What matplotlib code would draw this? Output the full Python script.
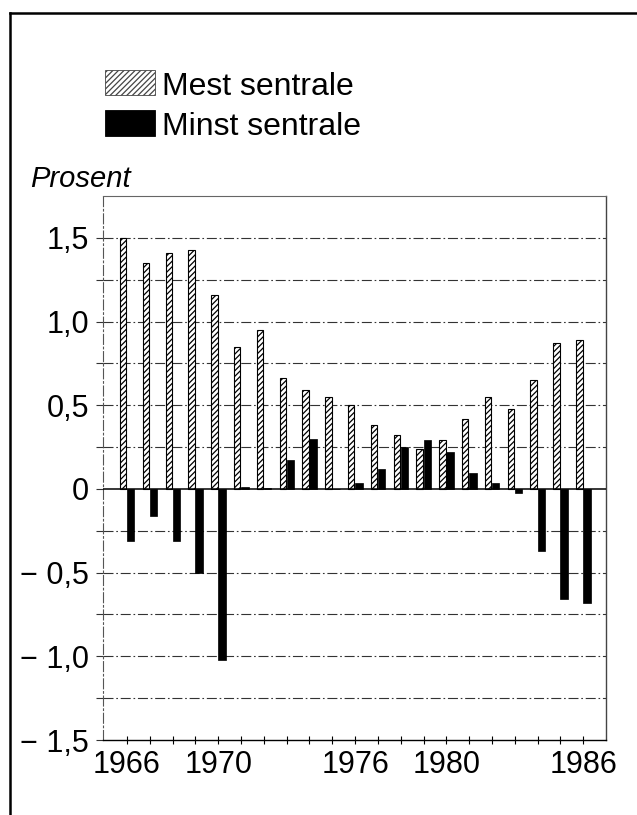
import matplotlib
matplotlib.use("Agg")
import matplotlib.pyplot as plt
from matplotlib.patches import Rectangle
from matplotlib.lines import Line2D

# data (prosent)
years = list(range(1966, 1987))
mest_sentrale = [1.50, 1.35, 1.41, 1.43, 1.16, 0.85, 0.95, 0.66, 0.59, 0.55, 0.50,
                 0.38, 0.32, 0.24, 0.29, 0.42, 0.55, 0.48, 0.65, 0.87, 0.89]
minst_sentrale = [-0.31, -0.16, -0.31, -0.50, -1.02, 0.014, 0.005, 0.17, 0.30, 0.0, 0.034,
                  0.12, 0.25, 0.29, 0.22, 0.094, 0.034, -0.026, -0.37, -0.66, -0.68]

series_labels = ["Mest sentrale", "Minst sentrale"]
y_label = "Prosent"
y_ticks = [-1.5, -1.0, -0.5, 0, 0.5, 1.0, 1.5]
y_ticklabels = ["\u2212 1,5", "\u2212 1,0", "\u2212 0,5", "0", "0,5", "1,0", "1,5"]
x_labelled = [1966, 1970, 1976, 1980, 1986]

plt.rcParams['font.family'] = ['Liberation Sans', 'DejaVu Sans']
plt.rcParams['hatch.linewidth'] = 0.9

W, H = 637, 815
fig = plt.figure(figsize=(W / 100, H / 100), dpi=100)
ax = fig.add_axes([103 / W, 1 - 740 / H, 503 / W, 544 / H])

dash = (0, (9, 2.5, 1.5, 2.5))

# bars: hatched just left of the year, black starting at the year
ax.bar([y - 0.31 for y in years], mest_sentrale, width=0.28, align='edge',
       facecolor='white', edgecolor='black', hatch='//////', linewidth=0.8, zorder=3)
ax.bar(years, minst_sentrale, width=0.33, align='edge',
       color='black', edgecolor='black', linewidth=0.5, zorder=3)

ax.set_xlim(1964.95, 1987)
ax.set_ylim(-1.5, 1.75)

# gridlines every 0.25, solid zero line
for g in [v * 0.25 for v in range(-5, 7)]:
    if g == 0:
        ax.axhline(0, color='black', lw=1.1, zorder=4)
    else:
        ax.axhline(g, color='#333333', lw=0.8, linestyle=dash, zorder=1)

ax.set_yticks(y_ticks)
ax.set_yticklabels(y_ticklabels, fontsize=22)
ax.set_yticks([v * 0.25 for v in range(-5, 7, 2)], minor=True)
ax.tick_params(axis='y', which='both', direction='out', length=5, width=0.8,
               color='#333333', pad=5)

ax.set_xticks(years)
ax.set_xticklabels([str(y) if y in x_labelled else "" for y in years], fontsize=22)
ax.tick_params(axis='x', direction='inout', length=6, width=0.8, pad=4)

ax.spines['left'].set_linestyle(dash)
ax.spines['left'].set_color('#555555')
ax.spines['left'].set_linewidth(0.8)
ax.spines['top'].set_color('#666666')
ax.spines['top'].set_linewidth(0.8)
ax.spines['right'].set_color('#444444')
ax.spines['right'].set_linewidth(1.0)
ax.spines['bottom'].set_linewidth(1.0)

# legend drawn by hand
fig.patches.append(Rectangle((105 / W, 1 - 95 / H), 50 / W, 25 / H, transform=fig.transFigure,
                             facecolor='white', edgecolor='#444444', hatch='//////', lw=0.6))
fig.patches.append(Rectangle((105 / W, 1 - 136 / H), 50 / W, 26 / H, transform=fig.transFigure,
                             facecolor='black', edgecolor='black', lw=0.6))
fig.text(162 / W, 1 - 95 / H, series_labels[0], fontsize=23, va='baseline', ha='left')
fig.text(162 / W, 1 - 135 / H, series_labels[1], fontsize=23, va='baseline', ha='left')

fig.text(30 / W, 1 - 187 / H, y_label, fontsize=21, style='italic', va='baseline', ha='left')

# frame round the figure (right and bottom are cut off in the original)
fig.add_artist(Line2D([10 / W, 10 / W], [0, 1 - 13 / H], transform=fig.transFigure,
                      color='black', lw=1.8))
fig.add_artist(Line2D([10 / W, 1], [1 - 13 / H, 1 - 13 / H], transform=fig.transFigure,
                      color='black', lw=1.8))

fig.savefig("out.png", dpi=100)
